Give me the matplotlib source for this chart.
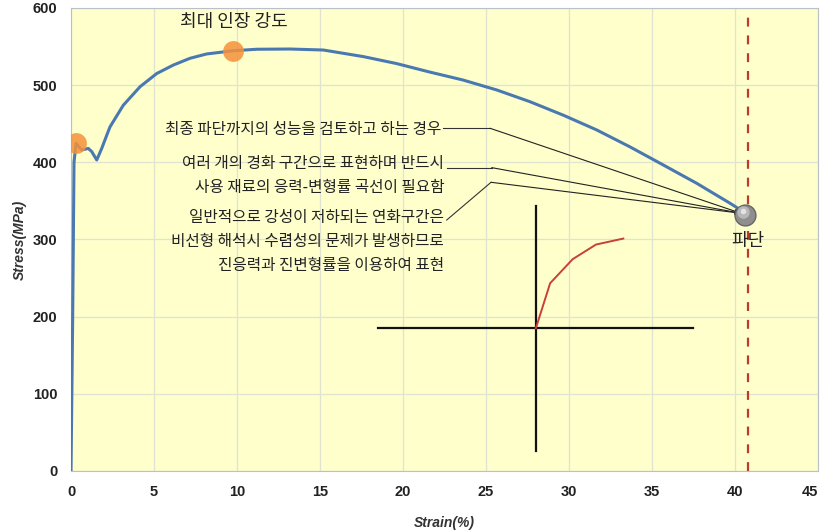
import matplotlib.pyplot as plt
import numpy as np

# Stress-strain curve
strain = [0, 0.1, 0.18, 0.3, 0.64, 1.04, 1.25, 1.55, 1.85, 2.15, 2.35, 3.15, 4.16, 5.16, 6.16,
          7.17, 8.17, 9.78, 11.19, 13.19, 15.2, 17.6, 19.6, 21.6, 23.6, 25.65, 27.65, 29.66,
          31.67, 33.67, 35.68, 37.69, 39.7, 40.5]
stress = [0, 200, 400, 424.6, 416, 418, 413.8, 403, 418, 435, 446, 474, 498, 515, 526,
          534.8, 540.4, 544.6, 546.5, 546.8, 545.5, 537, 528, 517, 506.7, 493.7, 478.5, 461,
          441.9, 420, 396.5, 372.8, 346.9, 336]

# Highlighted points
yield_pt = (0.3, 424.6)
uts_pt = (9.78, 544.6)
fracture_pt = (40.6, 332)
fracture_strain = 40.75

# Small inset sketch (true stress-strain)
inset_h_x = [18.48, 37.49]
inset_h_y = [184.9, 184.9]
inset_v_x = [28.0, 28.0]
inset_v_y = [26.3, 343.4]
inset_curve_x = [28.0, 28.86, 30.22, 31.62, 33.27]
inset_curve_y = [184.9, 243.3, 274.5, 293.4, 301.2]

# Annotation texts
notes = [
    "최종 파단까지의 성능을 검토하고 하는 경우",
    "여러 개의 경화 구간으로 표현하며 반드시\n사용 재료의 응력-변형률 곡선이 필요함",
    "일반적으로 강성이 저하되는 연화구간은\n비선형 해석시 수렴성의 문제가 발생하므로\n진응력과 진변형률을 이용하여 표현",
]
note_pos = [(22.3, 442), (22.47, 382.5), (22.47, 297)]
leader_start = [(22.43, 444.1), (22.63, 393.1), (22.63, 325.2)]
leader_elbow = [(25.24, 444.1), (25.34, 393.1), (25.30, 374.1)]
leader_end = (40.35, 334)

x_ticks = [0, 5, 10, 15, 20, 25, 30, 35, 40, 45]
y_ticks = [0, 100, 200, 300, 400, 500, 600]

kr_font = ['Noto Sans CJK KR', 'DejaVu Sans']
tick_font = ['Liberation Sans Narrow', 'Liberation Sans', 'DejaVu Sans']

fig = plt.figure(figsize=(8.23, 5.31), dpi=100)
ax = fig.add_axes([0.0863, 0.113, 0.9077, 0.872])
ax.set_facecolor('#FFFFCC')
ax.set_xlim(0, 45)
ax.set_ylim(0, 600)
ax.set_xticks(x_ticks)
ax.set_yticks(y_ticks)
ax.grid(True, color='#dfe3cf', linewidth=0.9)
ax.set_axisbelow(True)
for s in ax.spines.values():
    s.set_color('#b8c0c8')
ax.tick_params(length=0, pad=10)
for lbl in ax.get_xticklabels() + ax.get_yticklabels():
    lbl.set_family(tick_font)
    lbl.set_fontweight('bold')
    lbl.set_fontsize(10.5)
    lbl.set_color('#222222')
# last x label sits on the figure edge
ax.get_xticklabels()[-1].set_horizontalalignment('right')

ax.set_xlabel('Strain(%)', family=tick_font, style='italic', fontweight='bold',
              fontsize=10, color='#333333', labelpad=12)
ax.set_ylabel('Stress(MPa)', family=tick_font, style='italic', fontweight='bold',
              fontsize=10, color='#333333', labelpad=4)

# Fracture line
ax.axvline(fracture_strain, color='#c0392b', linestyle=(0, (4, 4)), linewidth=1.6)

# Main curve
ax.plot(strain, stress, color='#4a78b0', linewidth=2.2, zorder=3, solid_joinstyle='round')

# Inset sketch
ax.plot(inset_h_x, inset_h_y, color='#111111', linewidth=1.6)
ax.plot(inset_v_x, inset_v_y, color='#111111', linewidth=1.6)
ax.plot(inset_curve_x, inset_curve_y, color='#c8403a', linewidth=1.4)

# Highlight markers
ax.plot(*yield_pt, 'o', markersize=15, color='#f5913a', alpha=0.85, markeredgewidth=0, zorder=4)
ax.plot(*uts_pt, 'o', markersize=15, color='#f5913a', alpha=0.85, markeredgewidth=0, zorder=4)
ax.plot(*fracture_pt, 'o', markersize=15, color='#8e8e8e', markeredgecolor='#666666',
        markeredgewidth=1, zorder=5)
ax.plot(fracture_pt[0] - 0.1, fracture_pt[1] + 3, 'o', markersize=9, color='#b8b8b8',
        markeredgewidth=0, zorder=6)
ax.plot(fracture_pt[0] - 0.15, fracture_pt[1] + 5, 'o', markersize=4, color='#e4e4e4',
        markeredgewidth=0, zorder=6)

ax.text(uts_pt[0], 582, '최대 인장 강도', family=kr_font, fontsize=13,
        ha='center', va='center', color='#222222')
ax.text(fracture_strain, 298, '파단', family=kr_font, fontsize=13,
        ha='center', va='center', color='#222222', zorder=6)

# Notes with leader lines
for txt, pos, st, el in zip(notes, note_pos, leader_start, leader_elbow):
    ax.text(pos[0], pos[1], txt, family=kr_font, fontsize=11.3, ha='right', va='center',
            multialignment='right', linespacing=1.55, color='#222222')
    ax.plot([st[0], el[0]], [st[1], el[1]], color='#333333', linewidth=0.8)
    ax.annotate('', xy=leader_end, xytext=el,
                arrowprops=dict(arrowstyle='-|>', color='#222222', lw=0.8,
                                mutation_scale=8, shrinkA=0, shrinkB=0))

fig.savefig('out.png', dpi=100)
